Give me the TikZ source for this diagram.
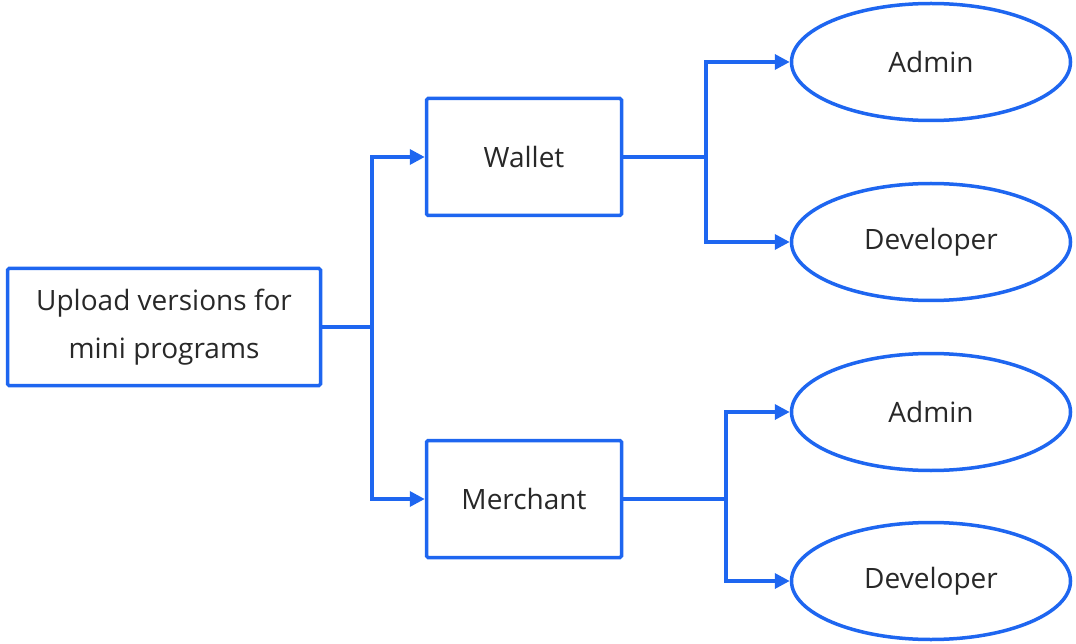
\documentclass[tikz,border=0pt]{standalone}
\usepackage{fontspec}
\setmainfont{Open Sans}
\usetikzlibrary{arrows.meta,shapes.geometric}
\definecolor{lblue}{RGB}{30,102,240}
\definecolor{ltext}{RGB}{40,40,40}
\begin{document}
\begin{tikzpicture}[x=1pt,y=-1pt,
  conn/.style={draw=lblue,line width=3.5pt},
  arr/.style={conn,-{Triangle[length=15pt,width=15pt]}},
  rbox/.style={draw=lblue,line width=3.5pt,rounded corners=1.5pt,fill=white,text=ltext,font=\fontsize{28}{49}\selectfont,align=center,inner sep=0pt},
  ell/.style={ellipse,draw=lblue,line width=3.5pt,fill=white,text=ltext,font=\fontsize{28}{49}\selectfont,inner sep=0pt,minimum width=279pt,minimum height=117pt}]
\useasboundingbox (0,0) rectangle (1076,644);
\node[rbox,minimum width=313pt,minimum height=117pt] (up) at (164,327) {Upload versions for\\[-1pt]mini programs};
\node[rbox,minimum width=195pt,minimum height=117pt] (w) at (524,157) {Wallet};
\node[rbox,minimum width=195pt,minimum height=117pt] (m) at (524,499) {Merchant};
\node[ell] (a1) at (931,62) {Admin};
\node[ell] (d1) at (931,242) {Developer};
\node[ell] (a2) at (931,412) {Admin};
\node[ell] (d2) at (931,581) {Developer};
\coordinate (j0) at (372,327);
\coordinate (j1) at (706,157);
\coordinate (j2) at (726,499);
\draw[conn] (up.east) -- (j0);
\draw[arr] (j0) |- (w.west);
\draw[arr] (j0) |- (m.west);
\draw[conn] (w.east) -- (j1);
\draw[arr] (j1) |- (a1.west);
\draw[arr] (j1) |- (d1.west);
\draw[conn] (m.east) -- (j2);
\draw[arr] (j2) |- (a2.west);
\draw[arr] (j2) |- (d2.west);
\end{tikzpicture}
\end{document}
